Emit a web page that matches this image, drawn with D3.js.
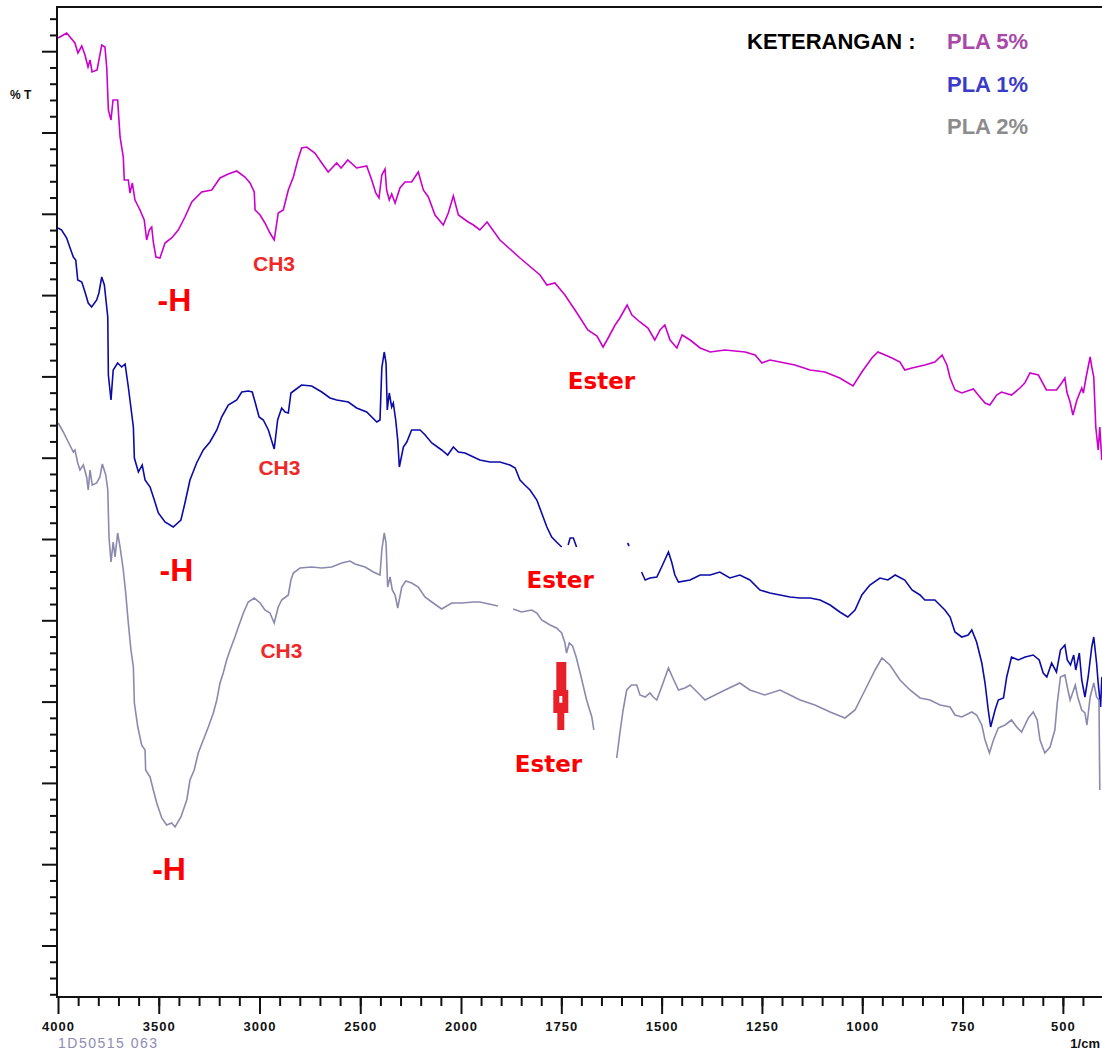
<!DOCTYPE html>
<html>
<head>
<meta charset="utf-8">
<script src="https://cdn.jsdelivr.net/npm/d3@7"></script>
<style>
  html, body { margin: 0; padding: 0; background: #fff; }
  svg { display: block; }
</style>
</head>
<body>
<svg id="chart" width="1102" height="1050"></svg>
<script>
// FTIR transmittance spectra of PLA blends: [wavenumber (1/cm), %T]; null marks a break in the trace
const pla5 = [
  [3999,95.9],[3957,96.4],[3916,95.4],[3901,94.4],[3882,95.1],[3866,94.2],[3851,93.0],[3841,93.7],
  [3831,92.5],[3806,92.7],[3783,95.2],[3767,95.0],[3758,92.9],[3750,88.7],[3737,87.7],[3727,89.7],
  [3704,89.7],[3692,86.0],[3676,84.0],[3671,81.7],[3651,81.7],[3643,80.4],[3631,81.4],[3618,79.7],
  [3593,78.7],[3572,77.7],[3560,75.7],[3547,76.7],[3535,77.0],[3527,75.5],[3514,74.0],[3494,73.9],
  [3469,75.4],[3436,75.9],[3403,76.7],[3370,78.0],[3336,79.5],[3287,80.5],[3237,80.7],[3196,81.9],
  [3155,82.3],[3113,82.6],[3072,82.0],[3047,81.4],[3026,80.5],[3022,78.7],[2997,78.2],[2973,77.4],
  [2948,76.4],[2927,75.7],[2907,78.4],[2882,78.7],[2857,80.7],[2832,82.0],[2810,83.7],[2791,84.9],
  [2766,85.0],[2725,84.4],[2691,83.4],[2659,82.5],[2617,83.4],[2595,82.9],[2562,83.7],[2518,82.9],
  [2468,83.1],[2443,81.7],[2423,80.4],[2407,79.9],[2393,82.2],[2377,82.8],[2369,80.7],[2356,79.7],
  [2344,80.3],[2327,79.4],[2303,80.9],[2278,81.5],[2245,81.5],[2212,82.5],[2187,80.7],[2162,80.0],
  [2129,78.2],[2088,77.2],[2063,78.4],[2038,80.1],[2013,78.2],[1982,77.5],[1969,77.2],[1953,76.7],
  [1935,77.5],[1903,75.7],[1853,73.9],[1803,72.2],[1786,71.2],[1766,71.4],[1741,70.2],[1716,68.7],
  [1703,67.9],[1684,66.7],[1661,66.1],[1646,65.0],[1636,65.7],[1616,67.2],[1604,67.9],[1586,69.2],
  [1574,68.2],[1554,67.5],[1534,66.9],[1517,65.7],[1504,66.7],[1492,67.2],[1479,65.7],[1462,64.9],
  [1449,66.2],[1429,65.7],[1404,64.9],[1379,64.5],[1342,64.7],[1292,64.5],[1267,64.2],[1250,63.4],
  [1230,63.7],[1205,63.5],[1168,63.2],[1130,62.7],[1093,62.5],[1056,61.9],[1023,61.1],[1001,62.5],
  [976,63.9],[961,64.5],[943,64.2],[926,63.9],[906,63.5],[894,62.7],[876,62.9],[844,63.2],
  [819,63.5],[801,64.2],[789,63.2],[781,61.9],[769,60.7],[752,60.4],[723,60.8],[711,60.2],
  [694,59.4],[682,59.2],[665,60.2],[653,60.5],[628,60.2],[607,60.9],[595,61.4],[582,62.4],
  [561,62.2],[541,60.7],[516,60.7],[503,61.4],[495,61.9],[490,60.5],[482,59.5],[475,58.2],
  [465,59.7],[453,60.9],[449,60.4],[442,62.0],[432,64.0],[428,63.0],[423,62.0],[418,57.0],
  [412,54.7],[408,57.0],[403,53.7]
];

const pla1 = [
  [3999,76.9],[3982,76.7],[3957,75.9],[3940,74.9],[3924,74.0],[3912,73.7],[3902,71.7],[3882,71.5],
  [3866,70.5],[3850,69.4],[3833,69.0],[3808,69.7],[3797,70.4],[3783,72.0],[3770,71.2],[3753,68.0],
  [3750,62.2],[3737,59.7],[3726,62.7],[3704,63.4],[3684,63.0],[3667,63.3],[3651,61.0],[3626,57.0],
  [3621,53.9],[3601,52.5],[3582,53.2],[3568,51.7],[3543,51.0],[3522,49.7],[3502,48.4],[3469,47.5],
  [3428,47.0],[3390,47.7],[3370,49.4],[3345,51.7],[3312,53.4],[3279,54.7],[3246,55.5],[3212,56.7],
  [3188,58.0],[3155,59.2],[3113,59.7],[3088,60.5],[3056,60.6],[3036,60.5],[3022,59.5],[3002,58.0],
  [2981,57.7],[2956,56.7],[2927,54.8],[2910,57.7],[2890,58.9],[2873,58.5],[2857,58.4],[2844,60.4],
  [2824,60.7],[2791,61.2],[2741,61.1],[2691,60.5],[2650,59.9],[2617,59.7],[2559,59.5],[2518,58.9],
  [2468,58.5],[2418,57.5],[2402,57.7],[2393,62.9],[2381,64.5],[2372,63.4],[2366,58.7],[2356,60.4],
  [2344,59.0],[2336,59.4],[2324,57.7],[2314,55.7],[2306,53.0],[2286,55.0],[2269,55.5],[2245,56.7],
  [2203,56.7],[2178,56.2],[2145,55.4],[2096,54.7],[2066,54.2],[2038,55.0],[2013,54.5],[1990,54.4],
  [1969,54.0],[1953,53.7],[1928,53.5],[1903,53.5],[1878,53.2],[1865,52.9],[1853,51.7],[1841,51.2],
  [1828,50.7],[1811,49.7],[1799,48.4],[1786,47.0],[1774,46.0],[1762,45.5],[1749,45.0],
  null,
  [1733,45.2],[1728,45.9],[1720,45.9],[1712,45.0],
  null,
  [1585,45.4],[1581,45.1],
  null,
  [1550,42.5],[1541,41.7],[1529,41.9],[1512,42.0],[1500,43.0],[1483,44.5],[1475,43.5],[1467,42.2],
  [1458,41.5],[1429,41.7],[1404,42.2],[1379,42.2],[1355,42.5],[1330,41.9],[1305,42.2],[1280,41.7],
  [1255,40.7],[1230,40.4],[1205,40.2],[1180,40.0],[1155,39.9],[1130,39.9],[1105,39.7],[1080,39.2],
  [1056,38.5],[1036,38.0],[1018,38.7],[1001,40.2],[981,41.2],[956,41.9],[936,41.7],[918,42.2],
  [894,41.7],[876,40.7],[856,40.2],[844,39.7],[819,39.7],[794,38.7],[781,38.0],[769,36.5],
  [752,36.0],[736,36.2],[727,36.7],[715,35.5],[702,33.4],[694,31.4],[686,28.7],[680,27.0],
  [669,28.7],[661,29.7],[648,29.9],[640,32.0],[628,34.0],[611,33.7],[594,34.0],[574,34.2],
  [559,33.7],[549,32.4],[540,32.0],[528,33.4],[516,32.5],[506,34.7],[495,35.2],[489,33.7],
  [481,33.2],[473,34.2],[468,32.7],[459,34.4],[453,31.7],[445,30.0],[437,32.0],[428,35.0],
  [423,36.0],[416,33.4],[412,31.4],[406,29.0],[403,32.0]
];

const pla2 = [
  [3999,57.4],[3974,56.5],[3949,55.5],[3924,54.5],[3916,54.7],[3902,53.4],[3891,52.7],[3874,53.2],
  [3858,52.0],[3850,50.7],[3841,52.7],[3830,51.2],[3808,51.4],[3792,52.0],[3780,53.3],[3763,52.2],
  [3753,50.7],[3747,46.0],[3737,43.5],[3726,45.5],[3717,44.0],[3704,46.4],[3692,45.0],[3676,42.7],
  [3664,40.4],[3651,37.4],[3638,34.7],[3626,33.0],[3621,29.4],[3604,27.0],[3585,25.2],[3568,24.7],
  [3565,22.7],[3543,22.0],[3527,20.7],[3510,19.4],[3485,17.9],[3461,17.2],[3436,17.4],[3419,17.0],
  [3390,18.0],[3361,19.7],[3345,21.7],[3324,22.7],[3304,24.4],[3279,25.7],[3254,27.0],[3229,28.4],
  [3212,29.7],[3196,31.4],[3180,32.4],[3163,33.7],[3146,34.7],[3122,36.0],[3105,37.0],[3080,38.4],
  [3056,39.5],[3026,39.9],[2997,39.4],[2973,38.7],[2948,38.4],[2927,37.4],[2907,39.0],[2890,39.7],
  [2857,40.2],[2844,41.7],[2832,42.4],[2799,42.9],[2741,43.0],[2691,42.9],[2642,43.0],[2592,43.4],
  [2551,43.6],[2526,43.3],[2476,43.0],[2435,42.5],[2402,42.2],[2393,44.7],[2381,46.4],[2372,45.4],
  [2364,41.0],[2352,42.0],[2341,40.7],[2327,40.2],[2314,38.9],[2294,41.0],[2274,41.6],[2245,41.4],
  [2212,41.0],[2179,40.0],[2145,39.5],[2096,38.8],[2046,39.4],[1998,39.4],[1969,39.5],[1953,39.5],
  [1919,39.2],[1908,39.1],
  null,
  [1870,38.8],[1849,38.5],[1824,38.7],[1811,38.4],[1799,37.7],[1778,37.2],[1762,36.9],[1749,36.4],
  [1741,35.4],[1737,34.4],[1730,35.4],[1722,35.1],[1713,34.0],[1703,32.4],[1687,29.7],[1674,28.0],
  [1669,26.7],
  null,
  [1612,23.9],[1604,26.4],[1596,28.7],[1587,30.7],[1575,31.2],[1562,31.2],[1554,30.2],[1541,30.0],
  [1529,30.4],[1521,30.0],[1512,29.7],[1500,31.0],[1483,32.9],[1472,31.9],[1458,30.7],[1442,30.9],
  [1429,31.2],[1404,30.2],[1392,29.7],[1367,30.2],[1342,30.7],[1305,31.4],[1280,30.7],[1243,30.2],
  [1205,30.7],[1180,30.2],[1155,29.7],[1118,29.2],[1080,28.5],[1043,27.9],[1018,28.7],[993,30.7],
  [968,32.7],[951,33.9],[931,33.2],[906,31.7],[881,30.7],[856,29.9],[831,29.7],[806,29.2],
  [781,29.0],[769,28.2],[752,28.0],[727,28.5],[715,28.2],[702,27.2],[694,25.7],[683,24.4],
  [673,25.7],[661,26.9],[644,27.2],[628,27.7],[615,27.0],[603,26.5],[586,27.9],[574,28.5],
  [564,27.7],[557,25.7],[545,24.4],[532,25.0],[520,26.7],[514,29.4],[506,32.0],[495,32.2],
  [489,31.0],[482,29.7],[475,30.5],[469,31.2],[463,30.0],[453,28.7],[445,28.4],[440,27.2],
  [432,30.0],[423,31.4],[416,30.0],[410,29.7],[408,20.7]
];

// Series names and trace colours
const seriesNames = ["PLA 5%", "PLA 1%", "PLA 2%"];
const seriesData = [pla5, pla1, pla2];
const lineColors = ["#cc00cc", "#0b0ba8", "#8a8aae"];
const legendColors = ["#a948a9", "#3b3bc9", "#8c8c8c"];

// Band assignments written beside each trace: [label, wavenumber, %T]
const bandLabels = [
  ["-H", 3422, 68.6], ["CH3", 2928, 72.6], ["Ester", 1650, 60.8],
  ["-H", 3412, 41.6], ["CH3", 2901, 52.2], ["Ester", 1753, 40.9],
  ["-H", 3449, 11.7], ["CH3", 2891, 33.9], ["Ester", 1782, 22.5]
];
// Carbonyl marker below the PLA 2% ester band: [wavenumber, top %T, bottom %T]
const esterMarker = [1750, 33.5, 26.7];

// Axis tick values
const xMajorTicks = [4000, 3500, 3000, 2500, 2000, 1750, 1500, 1250, 1000, 750, 500];
const xMinorTicks = d3.range(3900, 2000, -100).concat(d3.range(1950, 399, -50));
const yTickStart = 5.1, yTickStep = 1.626;

const svg = d3.select("#chart");
const W = 1102, H = 1050;

// Instrument axis: wavenumber scale compresses by half above 2000 1/cm
const x = d3.scaleLinear().domain([4000, 2000, 400]).range([58, 461, 1103]);
const y = d3.scaleLinear().domain([0, 100]).range([997, -3]);

const fontSans = "'Liberation Sans', Arial, sans-serif";

// Spectra traces
const line = d3.line()
  .defined(d => d !== null)
  .x(d => x(d[0]))
  .y(d => y(d[1]));

svg.append("g").selectAll("path")
  .data(seriesData)
  .join("path")
  .attr("d", d => line(d))
  .attr("fill", "none")
  .attr("stroke", (d, i) => lineColors[i])
  .attr("stroke-width", 1.6)
  .attr("stroke-linejoin", "miter");

// Frame: left axis, top border and bottom axis
const axisColor = "#111";
svg.append("line")
  .attr("x1", x(4000) - 1).attr("x2", W)
  .attr("y1", y(99)).attr("y2", y(99))
  .attr("stroke", axisColor).attr("stroke-width", 2);

// X axis: minor then major ticks
const gxMinor = svg.append("g")
  .attr("transform", `translate(0,${y(0)})`)
  .call(d3.axisBottom(x).tickValues(xMinorTicks).tickSize(9).tickSizeOuter(0).tickFormat(""));
const gxMajor = svg.append("g")
  .attr("transform", `translate(0,${y(0)})`)
  .call(d3.axisBottom(x).tickValues(xMajorTicks).tickSize(17).tickSizeOuter(0).tickFormat(d3.format("d")));
[gxMinor, gxMajor].forEach(g => {
  g.select(".domain").remove();
  g.selectAll(".tick line").attr("stroke", axisColor).attr("stroke-width", 2);
});
gxMajor.selectAll(".tick text")
  .attr("y", 34).attr("dy", null)
  .attr("fill", "#111")
  .style("font-family", fontSans)
  .style("font-weight", "bold")
  .style("font-size", "13px")
  .style("letter-spacing", "1px");
svg.append("line")
  .attr("x1", x(4000) - 1).attr("x2", W)
  .attr("y1", y(0)).attr("y2", y(0))
  .attr("stroke", axisColor).attr("stroke-width", 2);

// Y axis (%T): unlabeled ticks, every fifth one long
const yTicks = d3.range(-3, 58).map(i => ({ v: yTickStart + i * yTickStep, major: i % 5 === 0 }));
const gy = svg.append("g").attr("transform", `translate(${x(4000) - 1},0)`);
gy.selectAll("line.tick")
  .data(yTicks)
  .join("line")
  .attr("class", "tick")
  .attr("x1", d => d.major ? -15 : -7).attr("x2", 0)
  .attr("y1", d => y(d.v)).attr("y2", d => y(d.v))
  .attr("stroke", axisColor).attr("stroke-width", 2);
gy.append("line")
  .attr("x1", 0).attr("x2", 0)
  .attr("y1", y(99) - 1).attr("y2", y(0) + 1)
  .attr("stroke", axisColor).attr("stroke-width", 2);

// Axis captions
svg.append("text")
  .attr("x", 10).attr("y", 99)
  .attr("fill", "#111")
  .style("font-family", fontSans).style("font-weight", "bold").style("font-size", "12px")
  .text("% T");
svg.append("text")
  .attr("x", 1100).attr("y", 1048)
  .attr("text-anchor", "end")
  .attr("fill", "#111")
  .style("font-family", fontSans).style("font-weight", "bold").style("font-size", "13px")
  .text("1/cm");
svg.append("text")
  .attr("x", 58).attr("y", 1048)
  .attr("fill", "#8c8cb4")
  .style("font-family", fontSans).style("font-size", "14px").style("letter-spacing", "1.5px")
  .text("1D50515 063");

// Legend
const legend = svg.append("g");
legend.append("text")
  .attr("x", 747).attr("y", 49)
  .attr("fill", "#000")
  .style("font-family", fontSans).style("font-weight", "bold").style("font-size", "22px")
  .text("KETERANGAN :");
legend.selectAll("text.entry")
  .data(seriesNames)
  .join("text")
  .attr("class", "entry")
  .attr("x", 947)
  .attr("y", (d, i) => 49 + i * 42.5)
  .attr("fill", (d, i) => legendColors[i])
  .style("font-family", fontSans).style("font-weight", "bold").style("font-size", "22px")
  .text(d => d);

// Band labels
const labelStyle = {
  "-H": { font: fontSans, size: 32 },
  "CH3": { font: fontSans, size: 21 },
  "Ester": { font: "'DejaVu Sans', sans-serif", size: 23 }
};
svg.append("g").selectAll("text")
  .data(bandLabels)
  .join("text")
  .attr("x", d => x(d[1]))
  .attr("y", d => y(d[2]))
  .attr("text-anchor", "middle")
  .attr("fill", d => d[0] === "CH3" ? "#f02828" : "#ff0000")
  .style("font-family", d => labelStyle[d[0]].font)
  .style("font-weight", "bold")
  .style("font-size", d => labelStyle[d[0]].size + "px")
  .text(d => d[0]);

// Red arrow marking the carbonyl band
const mx = x(esterMarker[0]);
const mTop = y(esterMarker[1]), mBot = y(esterMarker[2]);
const mH = mBot - mTop;
const arrow = d3.path();
arrow.moveTo(mx - 5, mTop);
arrow.lineTo(mx + 5, mTop);
arrow.lineTo(mx + 5, mTop + mH * 0.41);
arrow.lineTo(mx + 7, mTop + mH * 0.41);
arrow.lineTo(mx + 7, mTop + mH * 0.75);
arrow.lineTo(mx + 3, mTop + mH * 0.75);
arrow.lineTo(mx + 3, mBot);
arrow.lineTo(mx - 4, mBot);
arrow.lineTo(mx - 4, mTop + mH * 0.75);
arrow.lineTo(mx - 8, mTop + mH * 0.75);
arrow.lineTo(mx - 8, mTop + mH * 0.41);
arrow.lineTo(mx - 5, mTop + mH * 0.41);
arrow.closePath();
svg.append("path").attr("d", arrow.toString()).attr("fill", "#e8202a");
svg.append("rect")
  .attr("x", mx - 2).attr("y", mTop + mH * 0.5)
  .attr("width", 3).attr("height", mH * 0.1)
  .attr("fill", "#fff");
</script>
</body>
</html>
